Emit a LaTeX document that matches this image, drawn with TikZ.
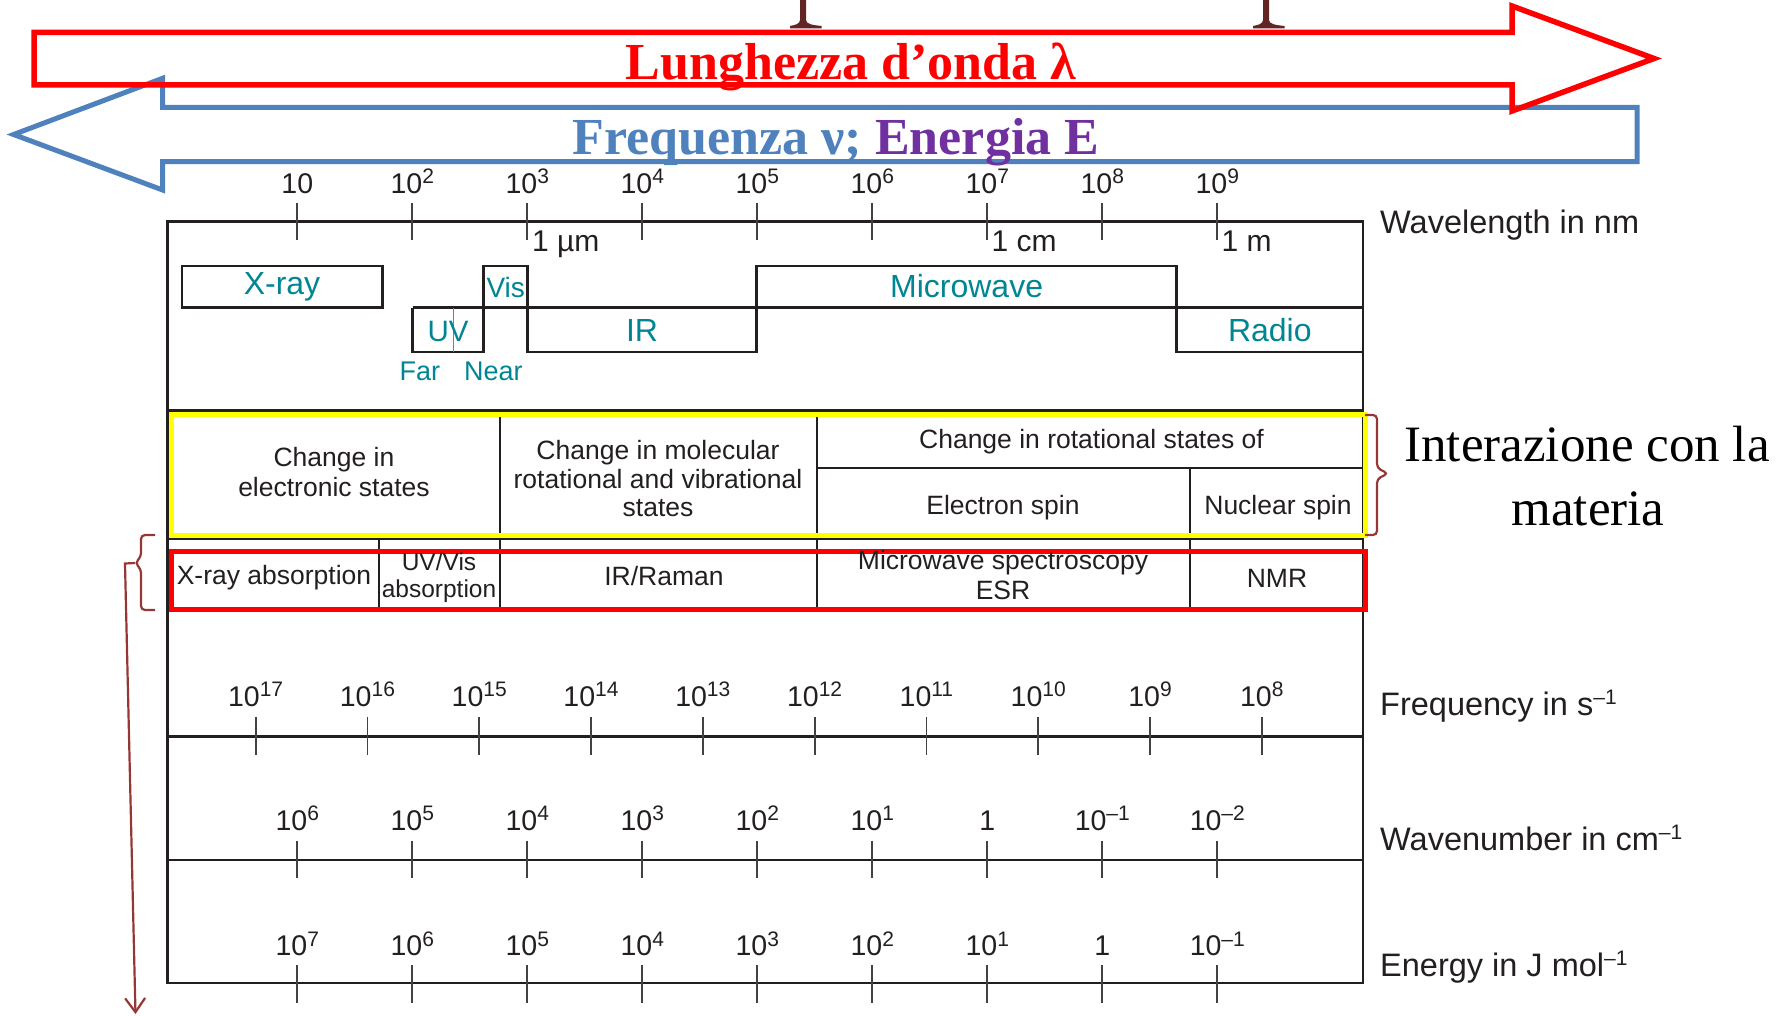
\documentclass[tikz,border=0pt]{standalone}
\usepackage{fontspec}
\usepackage{graphicx}
\setmainfont{Liberation Sans}
\newfontfamily\serifbig{Liberation Serif}
\usetikzlibrary{arrows.meta}

\definecolor{ink}{RGB}{35,31,32}
\definecolor{bandteal}{RGB}{0,134,146}
\definecolor{freqblue}{RGB}{79,129,189}
\definecolor{enpurple}{RGB}{112,48,160}
\definecolor{bracered}{RGB}{149,55,53}
\definecolor{titlebrown}{RGB}{99,37,35}
\definecolor{hiyellow}{RGB}{255,255,0}
\definecolor{hired}{RGB}{255,0,0}

\newcommand\fsz[2]{\fontsize{#1}{#2}\selectfont}
% raised exponent
\newcommand\up[2][21]{\raisebox{0.33em}{\fontsize{#1}{#1}\selectfont #2}}

\begin{document}
\begin{tikzpicture}[x=1pt,y=-1pt,line join=miter,
  frame/.style={draw=ink,line width=2.6pt},
  inner/.style={draw=ink,line width=2pt},
  bandline/.style={draw=ink,line width=2.6pt},
  tickline/.style={draw=ink!85,line width=1.8pt},
  ticklab/.style={font=\fsz{28.5}{30},text=ink,anchor=base,inner sep=0pt},
  unitlab/.style={font=\fsz{30}{32},text=ink,anchor=base west,inner sep=0pt},
  axislab/.style={font=\fsz{32.5}{34},text=ink,anchor=base west,inner sep=0pt},
  bandlab/.style={font=\fsz{32}{34},text=bandteal,anchor=base,inner sep=0pt},
  smallband/.style={font=\fsz{28}{30},text=bandteal,anchor=base,inner sep=0pt},
  cell/.style={font=\fsz{26.5}{29},text=ink,anchor=base,inner sep=0pt},
  narrowcell/.style={font=\fsz{24.5}{26},text=ink,anchor=base,inner sep=0pt},
  bracestyle/.style={draw=bracered,line width=2.2pt,rounded corners=4pt}]

\useasboundingbox (0,0) rectangle (1783,1016);

% descenders of the heading above the picture
\foreach \cx in {803,1266}{
  \fill[titlebrown] (\cx-3,0) -- (\cx-3,20) .. controls (\cx-3,24) and (\cx-8,25) .. (\cx-13,26)
    -- (\cx-13,28.5) -- (\cx+18.5,28.5) -- (\cx+18.5,26)
    .. controls (\cx+9,25) and (\cx+3,24) .. (\cx+3,20) -- (\cx+3,0) -- cycle;
}

% frequency / energy arrow (pointing left)
\draw[freqblue,line width=5pt] (1637,107.3) -- (162.6,107.3) -- (162.6,78.3) -- (13.6,134.5)
  -- (162.6,190) -- (162.6,161.7) -- (1637,161.7) -- cycle;
% wavelength arrow (pointing right)
\draw[hired,line width=5.5pt] (34,32.5) -- (1512,32.5) -- (1512,6) -- (1654,58.5)
  -- (1512,111) -- (1512,85) -- (34,85) -- cycle;

\node[font=\serifbig\bfseries\fsz{52}{54},text=hired,anchor=base,inner sep=0pt] (lung) at (851,80) {Lunghezza d’onda λ};
\node[font=\serifbig\bfseries\fsz{52}{54},anchor=base,inner sep=0pt] (freqen) at (836,155)
  {\textcolor{freqblue}{Frequenza ν;} \textcolor{enpurple}{Energia E}};

% main frame and row separators
\draw[frame] (167.2,221.7) rectangle (1363,982.8);
\foreach \yy in {410.5,539,736.7,860}{
  \draw[frame] (167.2,\yy) -- (1363,\yy);
}

% table cell dividers
\draw[inner] (499.5,410.5) -- (499.5,610);
\draw[inner] (816.8,410.5) -- (816.8,610);
\draw[inner] (816.8,468.3) -- (1363,468.3);
\draw[inner] (1190,468.3) -- (1190,610);
\draw[inner] (379,539) -- (379,610);

% spectral bands
\draw[bandline] (181.8,266) rectangle (382.7,307.7);
\draw[bandline] (412.5,307.7) -- (1363,307.7);
\draw[bandline] (412.5,307.7) -- (412.5,352) -- (483.7,352) -- (483.7,266) -- (527.7,266)
  -- (527.7,352) -- (756.6,352) -- (756.6,266) -- (1176.6,266) -- (1176.6,352) -- (1363,352);
\draw[gray,line width=1.2pt] (453.5,307.7) -- (453.5,352);

\node[bandlab] (xray) at (282,295) {X-ray};
\node[smallband] (vis) at (505.7,297.3) {Vis};
\node[bandlab] (micro) at (966.6,297.3) {Microwave};
\node[smallband,font=\fsz{29.5}{31}] (uv) at (448,341.7) {UV};
\node[bandlab] (ir) at (642,341.7) {IR};
\node[bandlab] (radio) at (1269.8,341.7) {Radio};
\node[smallband,font=\fsz{27}{29}] (far) at (419.8,380) {Far};
\node[smallband,font=\fsz{27}{29}] (near) at (493.3,380) {Near};

% wavelength scale
\foreach \k in {0,...,8}{
  \draw[tickline] ({297.3+115*\k},203.3) -- ({297.3+115*\k},240);
}
\foreach \lab [count=\k from 0] in {10,10\up{2},10\up{3},10\up{4},10\up{5},10\up{6},10\up{7},10\up{8},10\up{9}}{
  \node[ticklab] (wl\k) at ({297.3+115*\k},193.3) {\lab};
}
\node[unitlab] (um) at (532,251.7) {1 µm};
\node[unitlab] (cm) at (991.5,251.7) {1 cm};
\node[unitlab] (m) at (1221.5,251.7) {1 m};

% highlight frames
\draw[hiyellow,line width=5pt] (171,414.5) rectangle (1365.7,535.5);
\draw[hired,line width=5pt] (171.7,551.5) rectangle (1365,609.8);

% table texts
\node[cell] (ce1) at (334,466) {Change in};
\node[cell] (ce2) at (334,496) {electronic states};
\node[cell] (cm1) at (658,459) {Change in molecular};
\node[cell] (cm2) at (658,488) {rotational and vibrational};
\node[cell] (cm3) at (658,516) {states};
\node[cell] (crot) at (1091.5,448) {Change in rotational states of};
\node[cell] (espin) at (1003,514) {Electron spin};
\node[cell] (nspin) at (1278,514) {Nuclear spin};
\node[cell] (xabs) at (274,584) {X-ray absorption};
\node[narrowcell] (uvv1) at (439,570.5) {UV/Vis};
\node[narrowcell] (uvv2) at (439,597) {absorption};
\node[cell] (raman) at (664,585.5) {IR/Raman};
\node[cell] (mws1) at (1003,569) {Microwave spectroscopy};
\node[cell] (mws2) at (1003,599) {ESR};
\node[cell] (nmr) at (1277,587) {NMR};

% frequency scale
\foreach \k in {0,...,9}{
  \draw[tickline] ({255.6+111.8*\k},716.7) -- ({255.6+111.8*\k},755);
}
\foreach \lab [count=\k from 0] in {10\up{17},10\up{16},10\up{15},10\up{14},10\up{13},10\up{12},10\up{11},10\up{10},10\up{9},10\up{8}}{
  \node[ticklab] (fq\k) at ({255.6+111.8*\k},706) {\lab};
}

% wavenumber scale
\foreach \k in {0,...,8}{
  \draw[tickline] ({297.3+115*\k},840.7) -- ({297.3+115*\k},878.3);
}
\foreach \lab [count=\k from 0] in {10\up{6},10\up{5},10\up{4},10\up{3},10\up{2},10\up{1},1,10\up{–1},10\up{–2}}{
  \node[ticklab] (wn\k) at ({297.3+115*\k},830) {\lab};
}

% energy scale
\foreach \k in {0,...,8}{
  \draw[tickline] ({297.3+115*\k},965) -- ({297.3+115*\k},1003.3);
}
\foreach \lab [count=\k from 0] in {10\up{7},10\up{6},10\up{5},10\up{4},10\up{3},10\up{2},10\up{1},1,10\up{–1}}{
  \node[ticklab] (en\k) at ({297.3+115*\k},955.5) {\lab};
}

% axis titles
\node[axislab] (wlt) at (1380,233.3) {Wavelength in nm};
\node[axislab] (fqt) at (1380,715) {Frequency in s\up[21]{–1}};
\node[axislab] (wnt) at (1380,850) {Wavenumber in cm\up[21]{–1}};
\node[axislab] (ent) at (1380,976.5) {Energy in J mol\up[21]{–1}};

% interaction with matter
\draw[bracestyle] (1365,415) -- (1377,415) -- (1377,468) -- (1388,473.5) -- (1377,479) -- (1377,535) -- (1365,535);
\node[font=\serifbig\fsz{51}{56},text=black,anchor=base,inner sep=0pt] (int1) at (1587,461) {Interazione con la};
\node[font=\serifbig\fsz{51}{56},text=black,anchor=base,inner sep=0pt] (int2) at (1588,525) {materia};

% techniques brace and downward arrow
\coordinate (lbtip) at (135,563);
\coordinate (lbturn) at (125,563.5);
\coordinate (arrend) at (135.5,1014);
\draw[bracestyle] (155,535) -- (141,535) -- (141,557) -- (lbtip) -- (141,569) -- (141,610) -- (155,610);
\draw[draw=bracered,line width=2.2pt,-{Straight Barb[length=14pt,width=20pt,line width=2.2pt]}]
  (lbtip) -- (lbturn) -- (arrend);

\end{tikzpicture}
\end{document}
